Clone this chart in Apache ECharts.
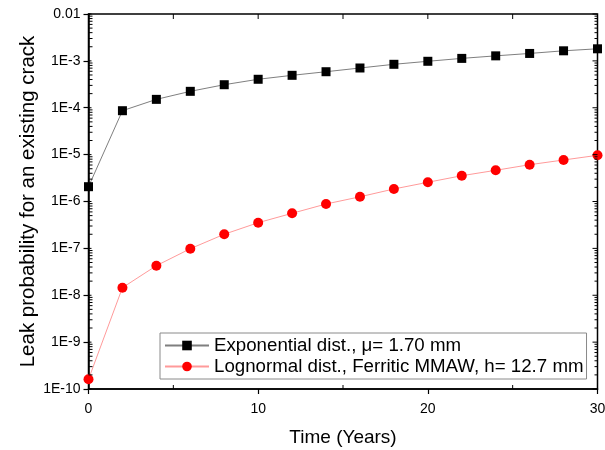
<!DOCTYPE html>
<html>
<head>
<meta charset="utf-8">
<script src="https://cdn.jsdelivr.net/npm/echarts@6/dist/echarts.min.js"></script>
<style>html,body{margin:0;padding:0;background:#fff;}#c{width:605px;height:450px;}</style>
</head>
<body>
<div id="c"></div>
<script>
// ---- data ----
var years = [0, 2, 4, 6, 8, 10, 12, 14, 16, 18, 20, 22, 24, 26, 28, 30];
var expValues = [2.07e-6, 8.65e-5, 1.51e-4, 2.24e-4, 3.1e-4, 4.05e-4, 4.92e-4, 5.87e-4, 7.05e-4, 8.45e-4, 9.8e-4, 1.13e-3, 1.28e-3, 1.44e-3, 1.64e-3, 1.81e-3];
var lognValues = [1.61e-10, 1.45e-8, 4.27e-8, 9.84e-8, 2.0e-7, 3.53e-7, 5.6e-7, 8.85e-7, 1.26e-6, 1.85e-6, 2.57e-6, 3.55e-6, 4.63e-6, 6.1e-6, 7.68e-6, 9.67e-6];
var seriesNames = ['Exponential dist., \u03bc= 1.70 mm', 'Lognormal dist., Ferritic MMAW, h= 12.7 mm'];
var yTickLabels = ['1E-10', '1E-9', '1E-8', '1E-7', '1E-6', '1E-5', '1E-4', '1E-3', '0.01'];
var xTickLabels = ['0', '10', '20', '30'];

// decorative tick marks (axis furniture), positioned through the axis scales
var tickMarks = [];
for (var e = -10; e <= -2; e++) {
  var major = Math.pow(10, e);
  tickMarks.push([0, major, 3, 0]);   // left major inward part
  tickMarks.push([30, major, -5, 0]); // right major inward
  if (e < -2) {
    for (var k = 2; k <= 9; k++) {
      var v = k * Math.pow(10, e);
      tickMarks.push([0, v, 4, 0]);
      tickMarks.push([30, v, -3, 0]);
    }
  }
}
[5, 15, 25].forEach(function (x) { tickMarks.push([x, 1e-10, 0, -4]); });
[5, 10, 15, 20, 25].forEach(function (x) { tickMarks.push([x, 0.01, 0, 5]); });

var font = 'Liberation Sans, Arial, sans-serif';
var chart = echarts.init(document.getElementById('c'), null, { renderer: 'canvas' });
chart.setOption({
  animation: false,
  backgroundColor: '#fff',
  grid: { left: 88.5, right: 7.5, top: 14, bottom: 61, outerBoundsMode: 'none', containLabel: false,
    show: true, borderColor: '#000', borderWidth: 1.5, backgroundColor: 'transparent' },
  legend: {
    data: seriesNames,
    orient: 'vertical',
    left: 160,
    top: 333,
    itemWidth: 44,
    itemHeight: 12,
    itemGap: 0,
    padding: [2, 3, 2, 4],
    borderColor: '#8a8a8a',
    borderWidth: 1,
    backgroundColor: '#fff',
    textStyle: { fontFamily: font, fontSize: 18.7, color: '#000', lineHeight: 21 }
  },
  xAxis: {
    type: 'value', min: 0, max: 30, interval: 10,
    name: 'Time (Years)', nameLocation: 'middle', nameGap: 39, nameMoveOverlap: false,
    nameTextStyle: { fontFamily: font, fontSize: 19, color: '#000' },
    axisLine: { show: true, onZero: false, lineStyle: { color: '#000', width: 1.5 } },
    axisTick: { show: true, inside: false, length: 5, lineStyle: { color: '#000', width: 1.2 } },
    axisLabel: { fontFamily: font, fontSize: 14, color: '#000', margin: 13,
      formatter: function (v) { return xTickLabels[Math.round(v / 10)]; } },
    splitLine: { show: false }
  },
  yAxis: {
    type: 'log', logBase: 10, min: 1e-10, max: 0.01, splitNumber: 8,
    name: 'Leak probability for an existing crack', nameLocation: 'middle', nameGap: 50, nameMoveOverlap: false,
    nameTextStyle: { fontFamily: font, fontSize: 20.5, color: '#000' },
    axisLine: { show: true, lineStyle: { color: '#000', width: 1.5 } },
    axisTick: { show: true, inside: false, length: 5, lineStyle: { color: '#000', width: 1.2 } },
    axisLabel: { fontFamily: font, fontSize: 14, color: '#000', margin: 8,
      formatter: function (v) { var ex = Math.round(Math.log10(v)); return yTickLabels[ex + 10]; } },
    splitLine: { show: false }
  },
  series: [
    {
      name: seriesNames[0], type: 'line',
      data: years.map(function (x, i) { return [x, expValues[i]]; }),
      symbol: 'rect', symbolSize: 9,
      itemStyle: { color: '#000' },
      lineStyle: { color: '#7f7f7f', width: 1 },
      z: 3
    },
    {
      name: seriesNames[1], type: 'line',
      data: years.map(function (x, i) { return [x, lognValues[i]]; }),
      symbol: 'circle', symbolSize: 10,
      itemStyle: { color: '#ff0000' },
      lineStyle: { color: '#ff9a9a', width: 1 },
      z: 3
    },
    {
      name: 'ticks', type: 'custom', silent: true, clip: false, z: 4,
      data: tickMarks,
      renderItem: function (params, api) {
        var p = api.coord([api.value(0), api.value(1)]);
        var dx = api.value(2), dy = api.value(3);
        return { type: 'line', shape: { x1: p[0], y1: p[1], x2: p[0] + dx, y2: p[1] + dy },
          style: { stroke: '#000', lineWidth: 1 } };
      }
    }
  ]
});
</script>
</body>
</html>
